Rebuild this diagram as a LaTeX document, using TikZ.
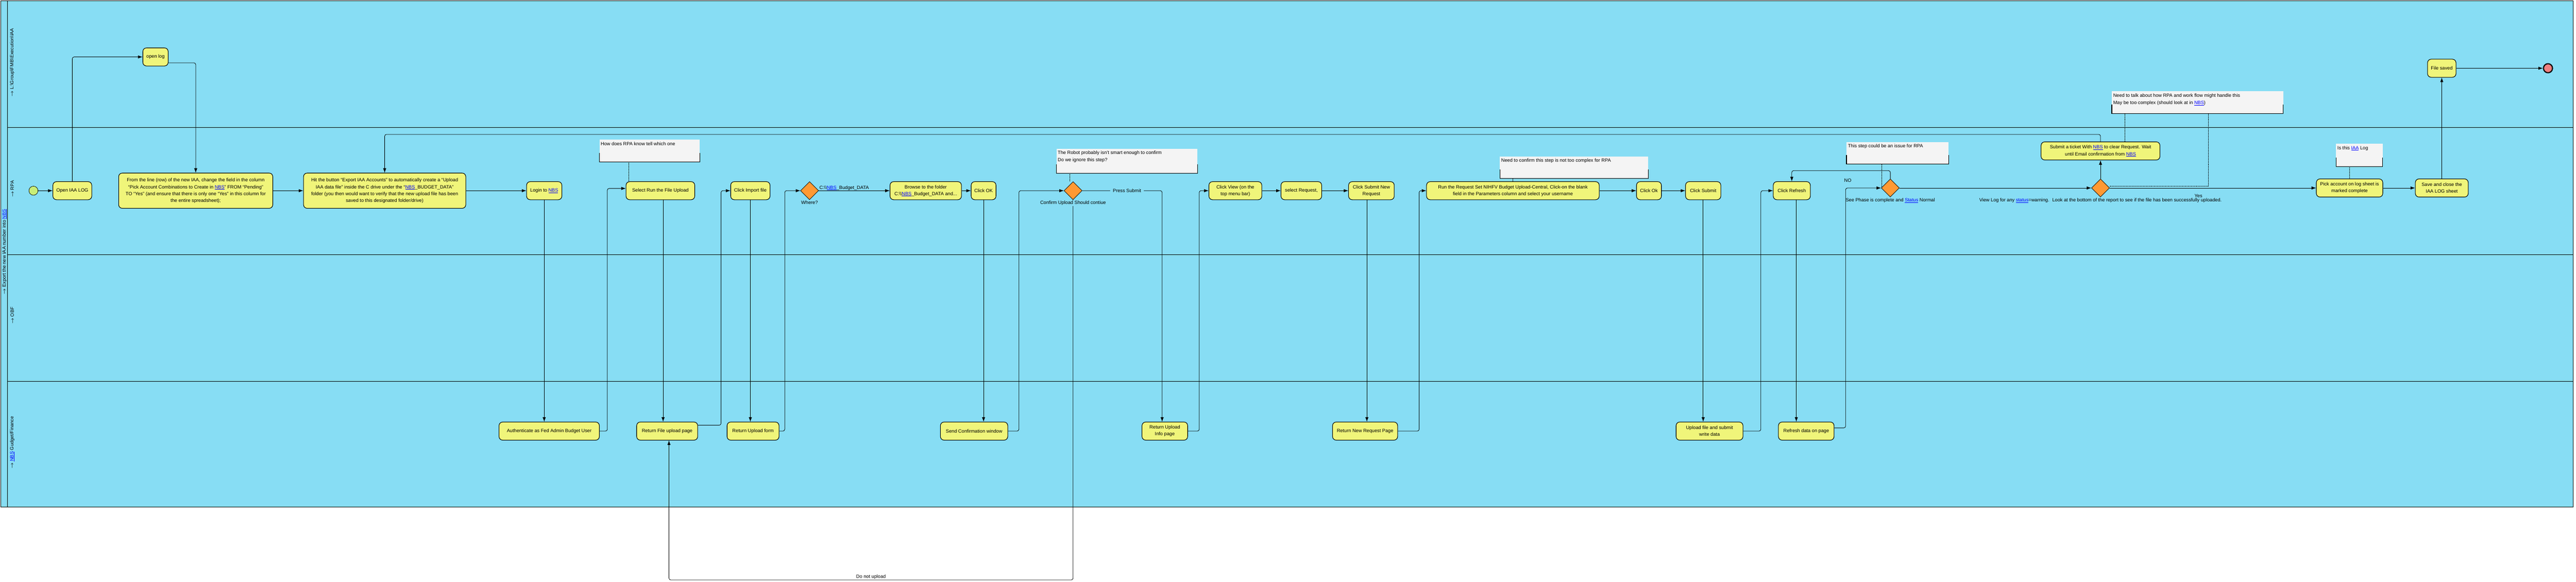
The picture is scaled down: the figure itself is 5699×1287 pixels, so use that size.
\documentclass[tikz,border=0pt]{standalone}
\usepackage{fontspec}
\setmainfont{Liberation Sans}
\usepackage{xcolor}
\usetikzlibrary{shapes, shapes.geometric, arrows, calc, arrows.meta, positioning}

\definecolor{lanecol}{RGB}{135,221,244}
\definecolor{taskcol}{RGB}{240,245,122}
\definecolor{gatecol}{RGB}{255,153,51}
\definecolor{notecol}{RGB}{244,244,244}
\definecolor{startcol}{RGB}{200,238,120}
\definecolor{endcol}{RGB}{240,128,128}
\definecolor{linkcol}{RGB}{0,0,255}
\newcommand{\lnk}[1]{\textcolor{linkcol}{\underline{#1}}}

\begin{document}
\begin{tikzpicture}[x=1pt, y=-1pt,
            every node/.style={font=\fontsize{10.5}{15}\selectfont},
            task/.style={draw, line width=1.2pt, fill=taskcol, rounded corners=8pt, align=center, minimum height=40pt, inner sep=2pt},
            gate/.style={diamond, draw, line width=0.8pt, fill=gatecol, minimum width=40pt, minimum height=40pt, inner sep=0pt},
            note/.style={fill=notecol, anchor=north west, inner sep=0pt},
            note text/.style={anchor=north west, align=left, inner xsep=3pt, inner ysep=5pt, font=\fontsize{10.5}{16}\selectfont},
            noteline/.style={line width=1.2pt},
            flow/.style={-{Latex[length=10pt,width=7pt]}, line width=0.9pt, rounded corners=4pt},
            assoc/.style={densely dotted, line width=0.7pt},
            lab/.style={inner sep=1pt},
            lane/.style={line width=1pt}]

            \fill[white] (0,0) rectangle (5699,1287);
            \useasboundingbox (0,0) rectangle (5699,1287);

            % pool and lanes
            \draw[lane, fill=lanecol] (2,2) rectangle (5693,1122);
            \draw[lane] (17,2) -- (17,1122);
            \draw[lane] (17,282) -- (5693,282);
            \draw[lane] (17,563) -- (5693,563);
            \draw[lane] (17,844) -- (5693,844);
            \node[rotate=90] (poolLbl) at (10,557) {{\boldmath$\rightarrow$} Export the new IAA number into \lnk{NBS}};
            \node[rotate=90] (laneA) at (27,138) {{\boldmath$\rightarrow$} L:\textbackslash Group\textbackslash FMB\textbackslash Execution\textbackslash IAA};
            \node[rotate=90] (laneB) at (27,418) {{\boldmath$\rightarrow$} RPA};
            \node[rotate=90] (laneC) at (27,698) {{\boldmath$\rightarrow$} OBF};
            \node[rotate=90] (laneD) at (27,979) {{\boldmath$\rightarrow$} \lnk{NBS} Gudget/Finance};

            % notes
            \node[note, minimum width=222pt, minimum height=49pt] (note1) at (1326,309) {};
            \node[note text] (note1txt) at (note1.north west) {How does RPA know tell which one};
            \node[note, minimum width=312pt, minimum height=54pt] (note2) at (2337,329) {};
            \node[note text] (note2txt) at (note2.north west) {The Robot probably isn't smart enough to confirm\\Do we ignore this step?};
            \node[note, minimum width=328pt, minimum height=49pt] (note3) at (3318,346) {};
            \node[note text] (note3txt) at (note3.north west) {Need to confirm this step is not too complex for RPA};
            \node[note, minimum width=226pt, minimum height=49pt] (note4) at (4085,314) {};
            \node[note text] (note4txt) at (note4.north west) {This step could be an issue for RPA};
            \node[note, minimum width=379pt, minimum height=49pt] (note5) at (4672,202) {};
            \node[note text] (note5txt) at (note5.north west) {Need to talk about how RPA and work flow might handle this\\May be too complex (should look at in \lnk{NBS})};
            \node[note, minimum width=103pt, minimum height=50pt] (note6) at (5168,318) {};
            \node[note text] (note6txt) at (note6.north west) {Is this \lnk{IAA} Log};
            \draw[noteline] ([yshift=20pt]note1.south west) |- (note1.south east) -- ([yshift=20pt]note1.south east);
            \draw[noteline] ([yshift=20pt]note2.south west) |- (note2.south east) -- ([yshift=20pt]note2.south east);
            \draw[noteline] ([yshift=20pt]note3.south west) |- (note3.south east) -- ([yshift=20pt]note3.south east);
            \draw[noteline] ([yshift=20pt]note4.south west) |- (note4.south east) -- ([yshift=20pt]note4.south east);
            \draw[noteline] ([yshift=20pt]note5.south west) |- (note5.south east) -- ([yshift=20pt]note5.south east);
            \draw[noteline] ([yshift=20pt]note6.south west) |- (note6.south east) -- ([yshift=20pt]note6.south east);

            % RPA lane and log lane
            \node[circle, draw, line width=0.8pt, fill=startcol, minimum size=20pt, inner sep=0pt] (start) at (74,422) {};
            \node[task, minimum width=86pt] (openIAA) at (160,422) {Open IAA LOG};
            \node[task, minimum width=56pt] (openLog) at (344,126) {open log};
            \node[task, minimum width=341pt, minimum height=78pt] (fromLine) at (433,422) {From the line (row) of the new IAA, change the field in the column\\ “Pick Account Combinations to Create in \lnk{NBS}” FROM “Pending”\\ TO “Yes” (and ensure that there is only one “Yes” in this column for\\ the entire spreadsheet);};
            \node[task, minimum width=359pt, minimum height=78pt] (hitBtn) at (851,422) {Hit the button “Export IAA Accounts” to automatically create a “Upload\\ IAA data file” inside the C drive under the “\lnk{NBS}\_BUDGET\_DATA”\\ folder (you then would want to verify that the new upload file has been\\ saved to this designated folder/drive)};
            \node[task, minimum width=78pt] (login) at (1204,422) {Login to \lnk{NBS}};
            \node[task, minimum width=152pt] (selectRun) at (1461,422) {Select Run the File Upload};
            \node[task, minimum width=87pt] (clickImport) at (1660,422) {Click Import file};
            \node[gate] (where) at (1791,422) {};
            \node[task, minimum width=158pt] (browse) at (2048,422) {Browse to the folder\\ C:\textbackslash\textbackslash\lnk{NBS}\_Budget\_DATA and...};
            \node[task, minimum width=55pt] (clickOK) at (2176,422) {Click OK};
            \node[gate] (confirm) at (2374,422) {};
            \node[task, minimum width=117pt] (clickView) at (2733,422) {Click View (on the\\ top menu bar)};
            \node[task, minimum width=90pt] (selReq) at (2879,422) {select Request,};
            \node[task, minimum width=101pt] (submitNew) at (3034,422) {Click Submit New\\ Request};
            \node[task, minimum width=382pt] (runReq) at (3347,422) {Run the Request Set NIHFV Budget Upload-Central, Click-on the blank\\ field in the Parameters column and select your username};
            \node[task, minimum width=55pt] (clickOk2) at (3648,422) {Click Ok};
            \node[task, minimum width=78pt] (clickSubmit) at (3768,422) {Click Submit};
            \node[task, minimum width=82pt] (refresh) at (3964,422) {Click Refresh};
            \node[gate] (phase) at (4182,416) {};
            \node[gate] (logGate) at (4647,416) {};
            \node[task, minimum width=263pt] (ticket) at (4647,334) {Submit a ticket With \lnk{NBS} to clear Request. Wait\\ until Email confirmation from \lnk{NBS}};
            \node[task, minimum width=147pt] (pickAcc) at (5198,416) {Pick account on log sheet is\\ marked complete};
            \node[task, minimum width=117pt] (saveClose) at (5402,416) {Save and close the\\ IAA LOG sheet};
            \node[task, minimum width=63pt] (fileSaved) at (5402,151) {File saved};
            \node[circle, draw, line width=2.5pt, fill=endcol, minimum size=20pt, inner sep=0pt] (finish) at (5637,151) {};

            % NBS lane
            \node[task, minimum width=222pt] (auth) at (1215,954) {Authenticate as Fed Admin Budget User};
            \node[task, minimum width=135pt] (retFile) at (1476,954) {Return File upload page};
            \node[task, minimum width=115pt] (retForm) at (1666,954) {Return Upload form};
            \node[task, minimum width=149pt] (sendConf) at (2155,954) {Send Confirmation window};
            \node[task, minimum width=101pt] (retInfo) at (2577,954) {Return Upload\\ Info page};
            \node[task, minimum width=144pt] (retNew) at (3020,954) {Return New Request Page};
            \node[task, minimum width=148pt] (uploadFile) at (3782,954) {Upload file  and submit\\ write data};
            \node[task, minimum width=123pt] (refreshData) at (3996,954) {Refresh data on page};

            % flows
            \draw[flow] (start) -- (openIAA);
            \draw[flow] (openIAA.north) |- (openLog.west);
            \draw[flow] ([yshift=-13pt]openLog.east) -| (fromLine.north);
            \draw[flow] (fromLine) -- (hitBtn);
            \draw[flow] (hitBtn) -- (login);
            \draw[flow] (login.south) -- (login.south |- auth.north);
            \draw[flow] (auth.east) -- ++(17,0) |- ([yshift=5pt]selectRun.west);
            \draw[flow] ([xshift=6pt]selectRun.south) -- ([xshift=6pt]selectRun.south |- retFile.north);
            \draw[flow] ([yshift=13pt]retFile.east) -- ++(51,0) |- (clickImport.west);
            \draw[flow] (clickImport.south) -- (clickImport.south |- retForm.north);
            \draw[flow] (retForm.east) -- ++(12,0) |- (where.west);
            \draw[flow] (where.east) -- node[lab, anchor=south west, pos=0] (whereLbl) {C:\textbackslash\textbackslash\lnk{NBS}\_Budget\_DATA} (browse.west);
            \node[lab, below=1pt of where] (whereTxt) {Where?};
            \draw[flow] (browse) -- (clickOK);
            \draw[flow] (clickOK.south) -- (clickOK.south |- sendConf.north);
            \draw[flow] (sendConf.east) -- ++(24,0) |- (confirm.west);
            \draw[flow] (confirm.east) -| node[lab, pos=0.28, fill=lanecol, inner xsep=6pt] (submitLbl) {Press Submit} ([xshift=-6pt]retInfo.north);
            \draw[flow] (confirm.south) -- ++(0,841) -| node[lab, pos=0.25, above] (noUpLbl) {Do not upload} ([xshift=4pt]retFile.south);
            \node[lab, fill=lanecol, below=1pt of confirm] (confirmTxt) {Confirm Upload Should contiue};
            \draw[flow] (retInfo.east) -- ++(25,0) |- (clickView.west);
            \draw[flow] (clickView) -- (selReq);
            \draw[flow] (selReq) -- (submitNew);
            \draw[flow] ([xshift=-10pt]submitNew.south) -- ([xshift=-10pt]submitNew.south |- retNew.north);
            \draw[flow] (retNew.east) -- ++(47,0) |- (runReq.west);
            \draw[flow] (runReq) -- (clickOk2);
            \draw[flow] (clickOk2) -- (clickSubmit);
            \draw[flow] (clickSubmit.south) -- (clickSubmit.south |- uploadFile.north);
            \draw[flow] (uploadFile.east) -- ++(39,0) |- (refresh.west);
            \draw[flow] ([xshift=10pt]refresh.south) -- ([xshift=10pt]refresh.south |- refreshData.north);
            \draw[flow] ([yshift=7pt]refreshData.east) -- ++(25,0) |- (phase.west);
            \draw[flow] (phase.north) -- ++(0,-18) -| (refresh.north);
            \node[lab] (noLbl) at (4088,399) {NO};
            \draw[flow] (phase) -- (logGate);
            \node[lab, below=1pt of phase] (phaseTxt) {See Phase is complete and \lnk{Status} Normal};
            \node[lab, below=1pt of logGate] (logTxt) {View Log for any \lnk{status}=warning.~ Look at the bottom of the report to see if the file has been successfully uploaded.};
            \draw[flow] (logGate) -- (ticket);
            \draw[flow] (ticket.north) -- ++(0,-16) -| (hitBtn.north);
            \draw[flow] (logGate) -- node[lab, pos=0.43, below=13pt] (yesLbl) {Yes} (pickAcc);
            \draw[flow] (pickAcc) -- (saveClose);
            \draw[flow] (saveClose) -- (fileSaved);
            \draw[flow] (fileSaved) -- (finish);

            % note links
            \draw[assoc] ([xshift=65pt]note1.south west) -- ([xshift=65pt]note1.south west |- selectRun.north);
            \draw[assoc] ([xshift=29pt]note2.south west) -- ([xshift=29pt]note2.south west |- confirm.north);
            \draw[assoc] ([xshift=29pt]note3.south west) -- ([xshift=29pt]note3.south west |- runReq.north);
            \draw[assoc] ([xshift=78pt]note4.south west) -- ([xshift=78pt]note4.south west |- phase.west);
            \draw[assoc] ([xshift=29pt]note5.south west) -- ([xshift=29pt]note5.south west |- ticket.north);
            \draw[assoc] ([xshift=214pt]note5.south west) |- ([yshift=4pt]logGate.east);
            \draw[assoc] ([xshift=30pt]note6.south west) -- ([xshift=30pt]note6.south west |- pickAcc.north);

        \end{tikzpicture}
\end{document}
